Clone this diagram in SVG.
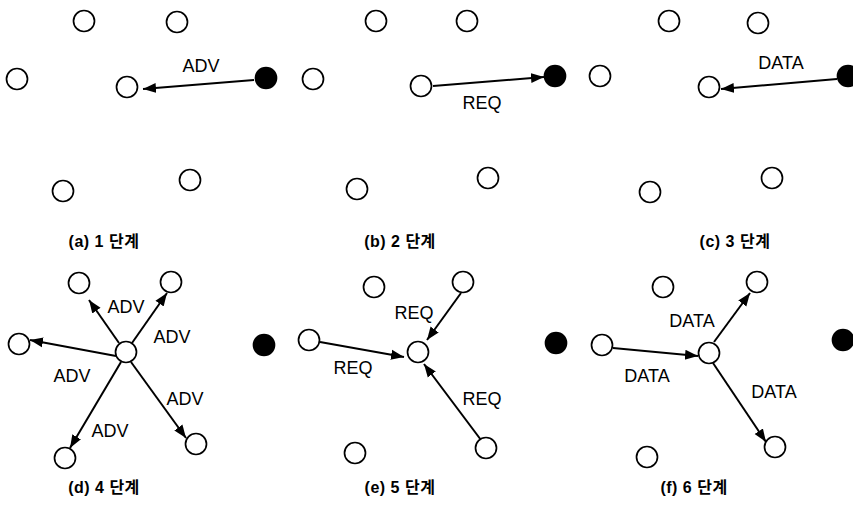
<svg xmlns="http://www.w3.org/2000/svg" width="853" height="507" viewBox="0 0 853 507">
<style>
.n{fill:#fff;stroke:#000;stroke-width:1.7}
.b{fill:#000;stroke:#000;stroke-width:1.7}
.e{stroke:#000;stroke-width:2;fill:none;marker-end:url(#ah)}
.l{font-family:"Liberation Sans",Arial,sans-serif;font-size:18px;fill:#000;text-anchor:middle}
.c{font-family:"Liberation Sans","Noto Sans CJK KR",sans-serif;font-size:16px;font-weight:bold;letter-spacing:0.5px;fill:#000;text-anchor:middle}
</style>
<defs>
<marker id="ah" markerUnits="userSpaceOnUse" markerWidth="14" markerHeight="12" viewBox="0 0 14 12" refX="13" refY="6" orient="auto">
<path d="M0,1 L13,6 L0,11 Z" fill="#000"/>
</marker>
</defs>
<rect width="853" height="507" fill="#fff"/>

<g id="connectors">
<line class="e" x1="254" y1="80" x2="143" y2="89"/>
<line class="e" x1="433" y1="86" x2="544" y2="77"/>
<line class="e" x1="837" y1="79" x2="721" y2="89"/>
<line class="e" x1="119" y1="343" x2="89" y2="300"/>
<line class="e" x1="132" y1="343" x2="167" y2="293"/>
<line class="e" x1="116" y1="356" x2="30" y2="340"/>
<line class="e" x1="121" y1="362" x2="70" y2="448"/>
<line class="e" x1="131" y1="362" x2="186" y2="438"/>
<line class="e" x1="461" y1="293" x2="427" y2="340"/>
<line class="e" x1="320" y1="342" x2="404" y2="357"/>
<line class="e" x1="481" y1="440" x2="424" y2="364"/>
<line class="e" x1="613" y1="348" x2="698" y2="356"/>
<line class="e" x1="714" y1="342" x2="750" y2="293"/>
<line class="e" x1="713" y1="363" x2="766" y2="442"/>
</g>

<g id="panel-a">
<g id="a1"><circle class="n" cx="84" cy="21" r="10.5"/></g>
<g id="a2"><circle class="n" cx="177" cy="22" r="10.5"/></g>
<g id="a3"><circle class="n" cx="17" cy="79" r="10.5"/></g>
<g id="a4"><circle class="n" cx="127" cy="87" r="10.5"/></g>
<g id="a5"><circle class="b" cx="266" cy="78" r="10.5"/></g>
<g id="a6"><circle class="n" cx="63" cy="191" r="10.5"/></g>
<g id="a7"><circle class="n" cx="190" cy="180" r="10.5"/></g>
<text class="l" x="201" y="72">ADV</text>
<text class="c" x="104" y="247">(a) 1 단계</text>
</g>

<g id="panel-b">
<g id="b1"><circle class="n" cx="376" cy="21" r="10.5"/></g>
<g id="b2"><circle class="n" cx="467" cy="21" r="10.5"/></g>
<g id="b3"><circle class="n" cx="313" cy="79" r="10.5"/></g>
<g id="b4"><circle class="n" cx="421" cy="86" r="10.5"/></g>
<g id="b5"><circle class="b" cx="555" cy="76" r="10.5"/></g>
<g id="b6"><circle class="n" cx="357" cy="189" r="10.5"/></g>
<g id="b7"><circle class="n" cx="488" cy="178" r="10.5"/></g>
<text class="l" x="482" y="109">REQ</text>
<text class="c" x="400" y="247">(b) 2 단계</text>
</g>

<g id="panel-c">
<g id="c1"><circle class="n" cx="669" cy="21" r="10.5"/></g>
<g id="c2"><circle class="n" cx="758" cy="23" r="10.5"/></g>
<g id="c3"><circle class="n" cx="600" cy="76" r="10.5"/></g>
<g id="c4"><circle class="n" cx="709" cy="87" r="10.5"/></g>
<g id="c5"><circle class="b" cx="848" cy="76" r="10.5"/></g>
<g id="c6"><circle class="n" cx="650" cy="192" r="10.5"/></g>
<g id="c7"><circle class="n" cx="772" cy="178" r="10.5"/></g>
<text class="l" x="781" y="69">DATA</text>
<text class="c" x="735" y="247">(c) 3 단계</text>
</g>

<g id="panel-d">
<g id="d1"><circle class="n" cx="79" cy="283" r="10.5"/></g>
<g id="d2"><circle class="n" cx="171" cy="282" r="10.5"/></g>
<g id="d3"><circle class="n" cx="19" cy="344" r="10.5"/></g>
<g id="d4"><circle class="n" cx="126" cy="352" r="10.5"/></g>
<g id="d5"><circle class="b" cx="264" cy="345" r="10.5"/></g>
<g id="d6"><circle class="n" cx="65" cy="458" r="10.5"/></g>
<g id="d7"><circle class="n" cx="196" cy="444" r="10.5"/></g>
<text class="l" x="126" y="313">ADV</text>
<text class="l" x="172" y="343">ADV</text>
<text class="l" x="72" y="382">ADV</text>
<text class="l" x="185" y="405">ADV</text>
<text class="l" x="110" y="437">ADV</text>
<text class="c" x="104" y="493">(d) 4 단계</text>
</g>

<g id="panel-e">
<g id="e1"><circle class="n" cx="374" cy="287" r="10.5"/></g>
<g id="e2"><circle class="n" cx="463" cy="282" r="10.5"/></g>
<g id="e3"><circle class="n" cx="309" cy="340" r="10.5"/></g>
<g id="e4"><circle class="n" cx="418" cy="352" r="10.5"/></g>
<g id="e5"><circle class="b" cx="556" cy="343" r="10.5"/></g>
<g id="e6"><circle class="n" cx="355" cy="453" r="10.5"/></g>
<g id="e7"><circle class="n" cx="486" cy="448" r="10.5"/></g>
<text class="l" x="414" y="319">REQ</text>
<text class="l" x="353" y="374">REQ</text>
<text class="l" x="482" y="405">REQ</text>
<text class="c" x="400" y="493">(e) 5 단계</text>
</g>

<g id="panel-f">
<g id="f1"><circle class="n" cx="663" cy="287" r="10.5"/></g>
<g id="f2"><circle class="n" cx="757" cy="282" r="10.5"/></g>
<g id="f3"><circle class="n" cx="602" cy="345" r="10.5"/></g>
<g id="f4"><circle class="n" cx="709" cy="353" r="10.5"/></g>
<g id="f5"><circle class="b" cx="843" cy="340" r="10.5"/></g>
<g id="f6"><circle class="n" cx="647" cy="457" r="10.5"/></g>
<g id="f7"><circle class="n" cx="775" cy="447" r="10.5"/></g>
<text class="l" x="692" y="327">DATA</text>
<text class="l" x="647" y="382">DATA</text>
<text class="l" x="774" y="398">DATA</text>
<text class="c" x="694" y="493">(f) 6 단계</text>
</g>
</svg>
